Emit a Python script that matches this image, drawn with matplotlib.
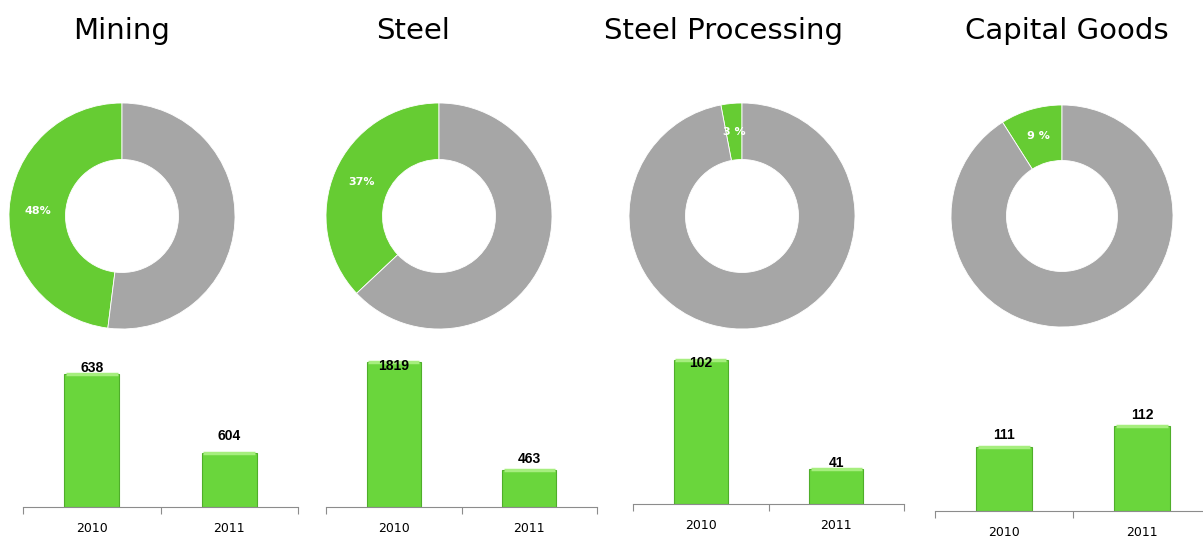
import matplotlib
matplotlib.use("Agg")
import matplotlib.pyplot as plt
import numpy as np

W, H = 1203, 536

# data
sectors = ["Mining", "Steel", "Steel Processing", "Capital Goods"]
share = [48, 37, 3, 9]
share_labels = ["48%", "37%", "3 %", "9 %"]
years = ["2010", "2011"]
vals_2010 = [638, 1819, 102, 111]
vals_2011 = [604, 463, 41, 112]

# layout (pixels)
title_x = [122, 413, 723, 1067]
donut_c = [(122, 216), (439, 216), (742, 216), (1062, 216)]
donut_r = [113, 113, 113, 111]
bar_x = [(23, 298), (326, 597), (633, 904), (935, 1211)]
bar_base = [507, 507, 503.5, 511]
bar_ylim = [(580.7, 648.4), (0, 1970), (21.3, 107.7), (108.0, 115.6)]
lab_off = [(6, 17), (-4, 11), (-3, 6), (12, 11)]

green = "#66CC33"
gray = "#A6A6A6"
bar_green = "#6AD63C"

fig = plt.figure(figsize=(W / 100, H / 100), dpi=100)


def px_axes(x0, y0, x1, y1):
    return fig.add_axes([x0 / W, 1 - y1 / H, (x1 - x0) / W, (y1 - y0) / H])


for i, name in enumerate(sectors):
    fig.text(title_x[i] / W, 1 - 39 / H, name, ha="center", va="baseline",
             fontsize=21, color="black")

    # donut
    cx, cy = donut_c[i]
    r = donut_r[i]
    ax = px_axes(cx - r, cy - r, cx + r, cy + r)
    wedges, _ = ax.pie([share[i], 100 - share[i]], colors=[green, gray],
                       startangle=90, counterclock=True,
                       wedgeprops=dict(width=0.5, edgecolor="white", linewidth=0.6))
    ax.set_xlim(-1, 1)
    ax.set_ylim(-1, 1)
    w = wedges[0]
    ang = np.deg2rad((w.theta1 + w.theta2) / 2)
    ax.text(0.75 * np.cos(ang), 0.75 * np.sin(ang), share_labels[i],
            ha="center", va="center", color="white", fontsize=8,
            fontweight="bold")

    # bars
    x0, x1 = bar_x[i]
    bx = px_axes(x0, 350, x1, bar_base[i])
    v = [vals_2010[i], vals_2011[i]]
    lo, hi = bar_ylim[i]
    bars = bx.bar([0, 1], [val - lo for val in v], bottom=lo, width=0.4,
                  color=bar_green, edgecolor="#4FAE2A", linewidth=0.8)
    # light top rim like the reference's bevel
    for b in bars:
        bx.plot([b.get_x() + 0.01, b.get_x() + b.get_width() - 0.01],
                [b.get_y() + b.get_height()] * 2, color="#A6EE7E",
                linewidth=2.5, solid_capstyle="butt")
    bx.set_xlim(-0.5, 1.5)
    bx.set_ylim(lo, hi)
    for sp in ["top", "right", "left"]:
        bx.spines[sp].set_visible(False)
    bx.spines["bottom"].set_color("#8C8C8C")
    bx.spines["bottom"].set_linewidth(0.8)
    bx.set_yticks([])
    bx.set_xticks([0, 1])
    bx.set_xticklabels(years, fontsize=9)
    bx.tick_params(axis="x", which="major", length=0, pad=11)
    bx.set_xticks([-0.5, 0.5, 1.5], minor=True)
    bx.tick_params(axis="x", which="minor", length=5, color="#8C8C8C",
                   width=0.8)
    for j, b in enumerate(bars):
        bx.annotate(str(v[j]), (b.get_x() + b.get_width() / 2, v[j]),
                    xytext=(0, lab_off[i][j] * 0.72), textcoords="offset points",
                    ha="center", va="center", fontsize=10, fontweight="bold",
                    family=["Liberation Sans Narrow", "Liberation Sans"],
                    annotation_clip=False)

fig.savefig("out.png", dpi=100, facecolor="white")
